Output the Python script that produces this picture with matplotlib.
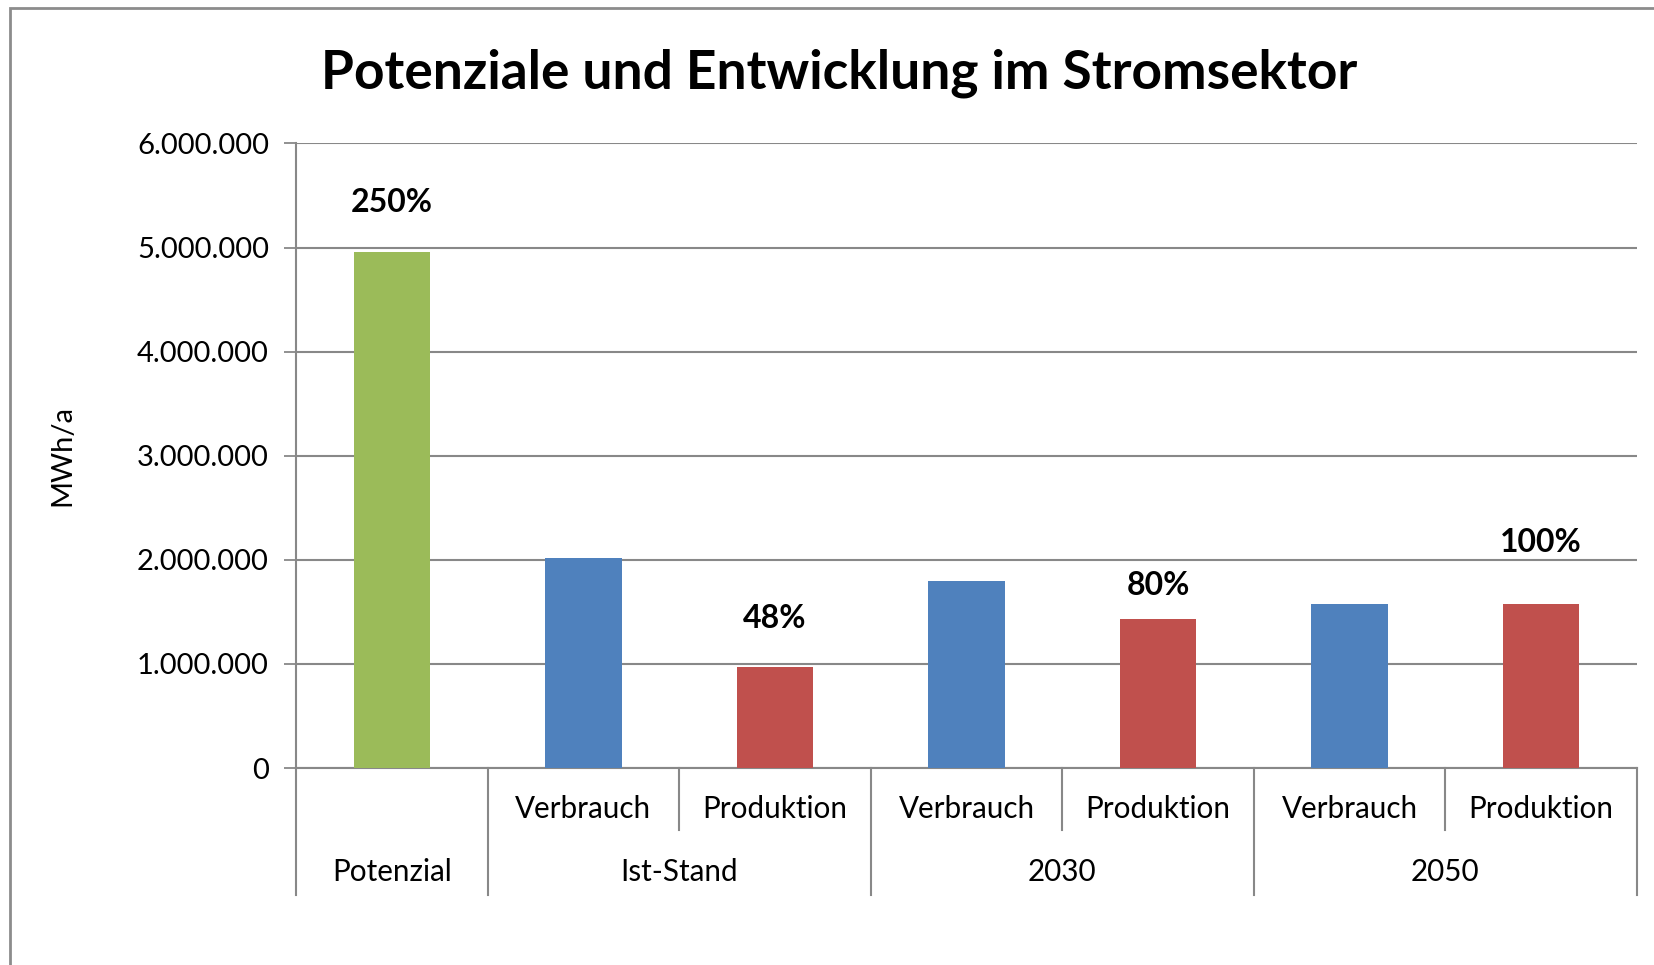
import matplotlib.pyplot as plt
from matplotlib.patches import Rectangle
from matplotlib.ticker import FuncFormatter, MultipleLocator
import matplotlib.transforms as mtransforms

# data
inner_labels = ["", "Verbrauch", "Produktion", "Verbrauch", "Produktion", "Verbrauch", "Produktion"]
groups = ["Potenzial", "Ist-Stand", "2030", "2050"]
group_sizes = [1, 2, 2, 2]
values = [4960000, 2020000, 970000, 1795000, 1430000, 1580000, 1580000]
colors = ["#9BBB59", "#4F81BD", "#C0504D", "#4F81BD", "#C0504D", "#4F81BD", "#C0504D"]
pct_labels = {0: "250%", 2: "48%", 4: "80%", 6: "100%"}
pct_label_y = {0: 5430000, 2: 1440000, 4: 1755000, 6: 2170000}

plt.rcParams['font.family'] = ['Lato', 'DejaVu Sans']
grid_col = "#888888"

fig = plt.figure(figsize=(16.54, 9.65), dpi=100)
fig.patches.append(Rectangle((9.5 / 1654, -0.1), 1.2, 1 - 7.5 / 965 + 0.1,
                             transform=fig.transFigure, fill=False,
                             edgecolor="#8c8c8c", linewidth=2))

ax = fig.add_axes([0.179, 0.2041, 0.9897 - 0.179, 0.8513 - 0.2041])
x = [i + 0.5 for i in range(len(values))]
ax.bar(x, values, width=0.4, color=colors, zorder=3)

for i, txt in pct_labels.items():
    ax.text(x[i], pct_label_y[i], txt, ha="center", va="center",
            fontsize=23, fontweight="bold")

ax.set_xlim(0, len(values))
ax.set_ylim(0, 6000000)
ax.yaxis.set_major_locator(MultipleLocator(1000000))
ax.yaxis.set_major_formatter(FuncFormatter(lambda v, p: f"{int(v):,}".replace(",", ".")))
ax.tick_params(axis="y", labelsize=21, length=8.5, width=1.3, color=grid_col, pad=11)
ax.set_xticks([])
ax.grid(axis="y", color=grid_col, linewidth=1.5, zorder=0)
for s in ["top", "right"]:
    ax.spines[s].set_visible(False)
for s in ["left", "bottom"]:
    ax.spines[s].set_color(grid_col)
    ax.spines[s].set_linewidth(1.5)
ax.spines["left"].set_bounds(0, 6000000)

ax.set_ylabel("MWh/a", fontsize=21, labelpad=44)

# two-level category axis
trans = mtransforms.blended_transform_factory(ax.transData, ax.transAxes)
inner_bottom, outer_bottom = -0.099, -0.2026
for i, lab in enumerate(inner_labels):
    if lab:
        ax.text(x[i], -0.0657, lab, transform=trans, ha="center", va="center", fontsize=21.3)
pos = 0
for g, n in zip(groups, group_sizes):
    ax.text(pos + n / 2, -0.1665, g, transform=trans, ha="center", va="center", fontsize=21.3)
    ax.plot([pos, pos], [0, outer_bottom], transform=trans, color=grid_col,
            linewidth=1.5, clip_on=False)
    for k in range(1, n):
        ax.plot([pos + k, pos + k], [0, inner_bottom], transform=trans, color=grid_col,
                linewidth=1.5, clip_on=False)
    pos += n
ax.plot([pos, pos], [0, outer_bottom], transform=trans, color=grid_col,
        linewidth=1.5, clip_on=False)

fig.text(839 / 1654, 1 - 73 / 965, "Potenziale und Entwicklung im Stromsektor",
         ha="center", va="center", fontsize=38.3, fontweight="bold")

fig.savefig("out.png", dpi=100)
